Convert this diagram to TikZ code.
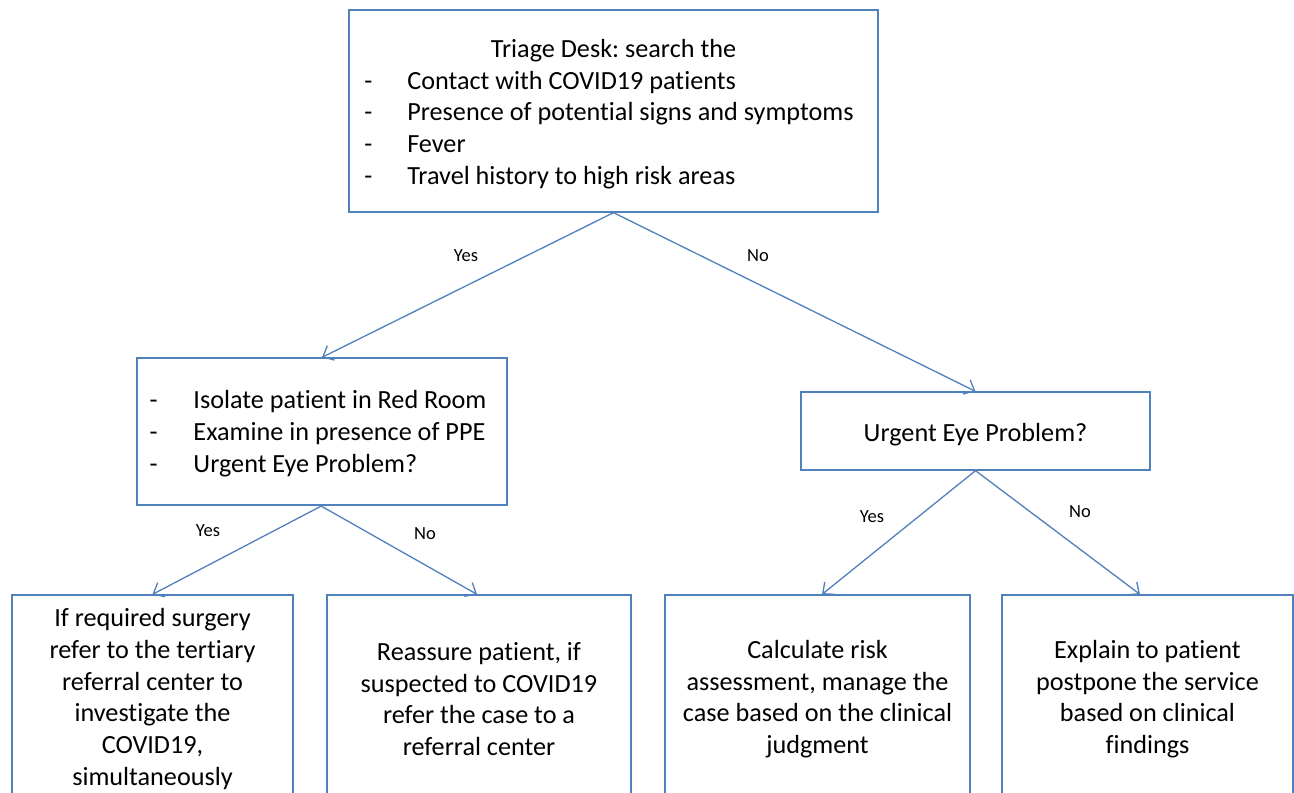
\documentclass[tikz,border=0pt]{standalone}
\usepackage{fontspec}
\setmainfont[Ligatures=NoCommon]{Carlito}
\usetikzlibrary{arrows.meta}
\definecolor{boxblue}{HTML}{4F81BD}
\newcommand{\shiftbox}[3]{\hspace*{-#1}\raisebox{-#2}[\height][\depth]{#3}\hspace*{#1}}
\begin{document}
\frenchspacing
\begin{tikzpicture}[x=1pt,y=-1pt,
  box/.style={draw=boxblue, line width=1.3pt, rectangle, inner sep=0pt,
    font=\fontsize{26.2}{31.7}\selectfont, text=black},
  conn/.style={draw=boxblue, line width=1.3pt,
    -{Straight Barb[length=9pt,width=16pt,line width=1.3pt]}},
  lbl/.style={font=\fontsize{18.5}{22}\selectfont, inner sep=0pt, text=black}]
\clip (0,0) rectangle (1294,793);
\fill[white] (0,0) rectangle (1294,793);

\node[box, minimum width=529pt, minimum height=202pt] (top) at (613.5,111)
  {\shiftbox{4.5pt}{3.5pt}{\begin{tabular}{@{}l@{}l@{}}
   \multicolumn{2}{c}{\hspace*{9pt}Triage Desk: search the}\\
   \makebox[43pt][l]{-} & Contact with COVID19 patients\\
   \makebox[43pt][l]{-} & Presence of potential signs and symptoms\\
   \makebox[43pt][l]{-} & Fever\\
   \makebox[43pt][l]{-} & Travel history to high risk areas
   \end{tabular}}};

\node[box, minimum width=370pt, minimum height=147pt] (iso) at (322,431.5)
  {\shiftbox{4pt}{2.5pt}{\begin{tabular}{@{}l@{}l@{}}
   \makebox[44pt][l]{-} & Isolate patient in Red Room\\
   \makebox[44pt][l]{-} & Examine in presence of PPE\\
   \makebox[44pt][l]{-} & Urgent Eye Problem?
   \end{tabular}}};

\node[box, minimum width=349pt, minimum height=78pt] (urg) at (975.5,431)
  {\shiftbox{0pt}{4pt}{Urgent Eye Problem?}};

\node[box, align=center, minimum width=281pt, minimum height=208pt] (b1) at (152.5,699)
  {If required surgery\\refer to the tertiary\\referral center to\\investigate the\\COVID19,\\simultaneously};
\node[box, align=center, minimum width=304pt, minimum height=208pt] (b2) at (479,699)
  {Reassure patient, if\\suspected to COVID19\\refer the case to a\\referral center};
\node[box, align=center, minimum width=305pt, minimum height=208pt] (b3) at (817.5,699)
  {Calculate risk\\assessment, manage the\\case based on the clinical\\judgment};
\node[box, align=center, minimum width=291pt, minimum height=208pt] (b4) at (1147.5,699)
  {Explain to patient\\postpone the service\\based on clinical\\findings};

\draw[conn] (top.south) -- (iso.north);
\draw[conn] (top.south) -- (urg.north);
\draw[conn] (iso.south) -- (b1.north);
\draw[conn] ([xshift=-1.5pt]iso.south) -- ([xshift=-2pt]b2.north);
\draw[conn] (urg.south) -- ([xshift=4.5pt]b3.north);
\draw[conn] (urg.south) -- ([xshift=-7.5pt]b4.north);

\node[lbl] (y1) at (466,256) {Yes};
\node[lbl] (n1) at (758,256) {No};
\node[lbl] (y2) at (208,531) {Yes};
\node[lbl] (n2) at (425,534) {No};
\node[lbl] (y3) at (872,517) {Yes};
\node[lbl] (n3) at (1080,512) {No};
\end{tikzpicture}
\end{document}
